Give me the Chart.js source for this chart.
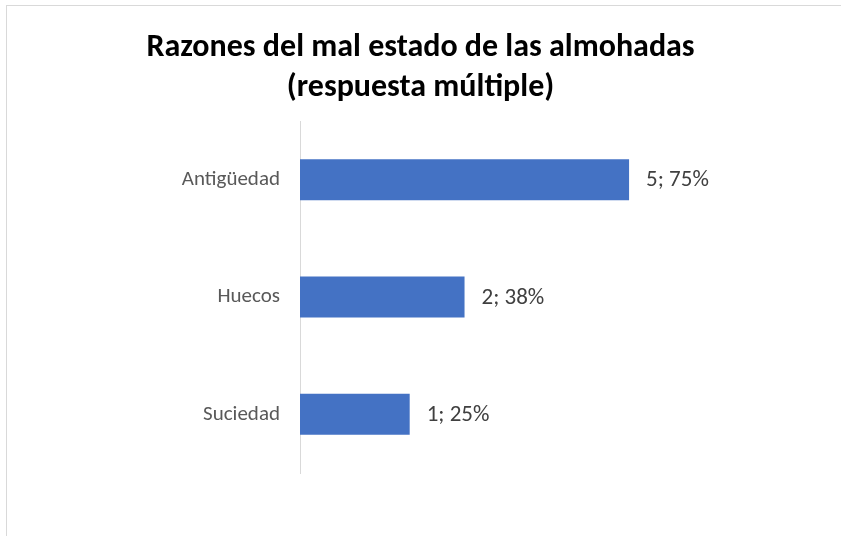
<!DOCTYPE html>
<html>
<head>
<meta charset="utf-8">
<script src="https://cdn.jsdelivr.net/npm/chart.js@4.4.1/dist/chart.umd.min.js"></script>
<style>
    html, body { margin: 0; padding: 0; background: #fff; overflow: hidden; }
    .frame {
        position: absolute; left: 6px; top: 5px;
        width: 900px; height: 600px;
        border: 1px solid #d9d9d9;
    }
    .wrap { position: absolute; left: 0; top: 0; width: 841px; height: 536px; }
</style>
</head>
<body>
<div class="frame"></div>
<div class="wrap"><canvas id="barChart"></canvas></div>
<script>
// Data
const categories = ['Antigüedad', 'Huecos', 'Suciedad'];
const counts = [5, 2, 1];
const percents = [75, 37.5, 25];
const titleLines = ['Razones del mal estado de las almohadas', '(respuesta múltiple)'];

const FONT = '"Carlito", "Lato", sans-serif';

// value labels to the right of each bar ("5; 75%")
const barLabels = {
    id: 'barLabels',
    afterDatasetsDraw(chart) {
        const ctx = chart.ctx;
        const meta = chart.getDatasetMeta(0);
        ctx.save();
        ctx.font = `23px ${FONT}`;
        ctx.fillStyle = '#404040';
        ctx.textAlign = 'left';
        ctx.textBaseline = 'middle';
        meta.data.forEach((bar, i) => {
            const text = `${counts[i]}; ${Math.round(percents[i])}%`;
            ctx.fillText(text, bar.x + 17, bar.y + 1);
        });
        ctx.restore();
    }
};

const initBarChart = () => {
    const ctx = document.getElementById('barChart')?.getContext('2d');
    if (!ctx) return null;

    return new Chart(ctx, {
        type: 'bar',
        data: {
            labels: categories,
            datasets: [{
                data: percents,
                backgroundColor: '#4472c4',
                borderWidth: 0,
                barPercentage: 0.35,
                categoryPercentage: 1
            }]
        },
        options: {
            indexAxis: 'y',
            responsive: true,
            maintainAspectRatio: false,
            animation: false,
            layout: {
                padding: { left: 0, right: 0, top: 0, bottom: 63 }
            },
            scales: {
                x: {
                    display: false,
                    min: 0,
                    max: 123.3
                },
                y: {
                    grid: { display: false, drawTicks: false },
                    border: { display: true, color: '#d9d9d9', width: 1 },
                    ticks: {
                        color: '#595959',
                        padding: 20,
                        font: { family: FONT, size: 21 }
                    },
                    afterFit: scale => { scale.width = 300; }
                }
            },
            plugins: {
                legend: { display: false },
                tooltip: { enabled: false },
                title: {
                    display: true,
                    text: titleLines,
                    color: '#000000',
                    font: { family: FONT, size: 32, weight: 'bold', lineHeight: '40px' },
                    padding: { top: 28, bottom: 13 }
                }
            }
        },
        plugins: [barLabels]
    });
};

initBarChart();
</script>
</body>
</html>
